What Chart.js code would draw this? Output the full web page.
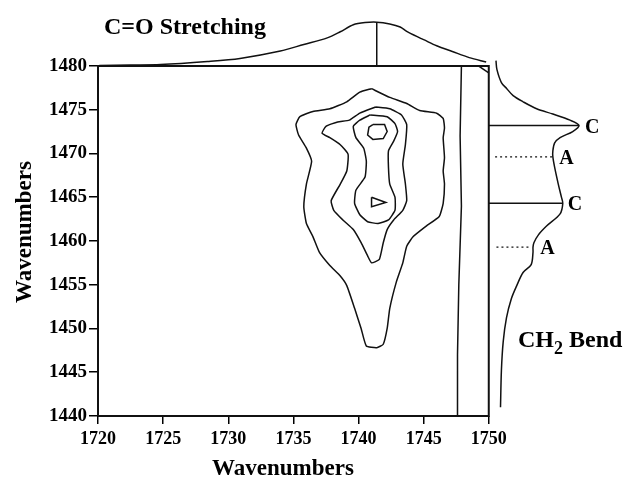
<!DOCTYPE html>
<html>
<head>
<meta charset="utf-8">
<script src="https://cdn.jsdelivr.net/npm/chart.js@4/dist/chart.umd.min.js"></script>
<style>
  html, body { margin: 0; padding: 0; background: #fff; }
  #wrap { width: 626px; height: 480px; }
</style>
</head>
<body>
<div id="wrap"><canvas id="c" width="626" height="480"></canvas></div>
<script>
// Tick values of the 2D correlation map
const xTicks = [1720, 1725, 1730, 1735, 1740, 1745, 1750];
const yTicks = [1440, 1445, 1450, 1455, 1460, 1465, 1470, 1475, 1480];

// Contour levels, [wavenumber1, wavenumber2]
const contourLevel1 = [[1741.0,1477.4],[1742.4,1476.4],[1743.7,1475.7],[1744.7,1474.9],[1746.0,1474.6],[1746.5,1474.0],[1746.6,1472.9],[1746.5,1471.8],[1746.6,1469.5],[1746.5,1468.0],[1746.6,1466.5],[1746.5,1464.3],[1746.2,1462.8],[1745.2,1461.7],[1744.2,1460.5],[1743.7,1459.4],[1743.4,1457.5],[1742.9,1455.3],[1742.4,1452.3],[1742.2,1450.0],[1741.9,1448.2],[1741.4,1447.8],[1740.6,1448.0],[1740.2,1450.0],[1739.7,1452.3],[1739.1,1454.9],[1738.6,1456.0],[1737.8,1457.2],[1737.0,1458.7],[1736.5,1460.5],[1736.0,1462.0],[1735.8,1463.9],[1736.0,1466.5],[1736.4,1469.1],[1736.0,1470.6],[1735.4,1472.1],[1735.2,1473.3],[1735.5,1474.2],[1736.5,1474.8],[1737.8,1475.1],[1739.1,1475.9],[1740.1,1477.0]];
const contourLevel2 = [[1741.3,1475.3],[1742.4,1475.1],[1743.3,1474.4],[1743.7,1473.3],[1743.6,1471.0],[1743.4,1468.8],[1743.6,1466.5],[1743.7,1464.6],[1743.4,1463.5],[1742.7,1462.4],[1742.2,1461.3],[1741.9,1459.8],[1741.6,1457.9],[1741.0,1457.5],[1740.7,1458.3],[1740.2,1459.8],[1739.6,1461.3],[1738.8,1462.4],[1738.1,1463.5],[1737.9,1464.6],[1738.6,1466.5],[1739.1,1468.0],[1739.2,1469.9],[1738.6,1471.0],[1737.8,1471.8],[1737.2,1472.3],[1737.5,1473.1],[1738.4,1473.6],[1739.3,1473.8],[1740.1,1474.6]];
const contourLevel3 = [[1740.9,1474.4],[1742.2,1474.2],[1742.8,1473.4],[1743.0,1472.5],[1742.7,1471.4],[1742.3,1470.3],[1742.3,1468.4],[1742.4,1466.5],[1742.8,1465.0],[1742.8,1463.5],[1742.3,1462.4],[1741.5,1462.0],[1740.7,1462.2],[1740.1,1463.0],[1739.7,1464.3],[1739.8,1465.8],[1740.5,1467.3],[1740.6,1469.1],[1740.4,1470.6],[1739.8,1471.8],[1739.6,1473.1],[1740.1,1473.8]];
const contourLevel4a = [[1741.1,1473.3],[1742.0,1473.3],[1742.2,1472.5],[1741.9,1471.7],[1741.1,1471.6],[1740.7,1472.1],[1740.8,1473.0]];
const contourLevel4b = [[1741.0,1465.0],[1742.1,1464.4],[1741.0,1463.9]];
const diagonalTrace = [[1747.9,1480],[1747.8,1472],[1747.9,1464],[1747.7,1455],[1747.6,1447],[1747.6,1440]];
const cornerTrace = [[1749.2,1480],[1750.0,1479.2]];

// Top reference spectrum (C=O stretching): wavenumber and relative intensity
const topWavenumber = [1720.1,1722.5,1724.8,1728.4,1730.9,1734.0,1735.8,1737.6,1738.6,1739.6,1740.5,1741.4,1742.4,1743.2,1743.7,1744.7,1745.0,1746.0,1747.2,1748.5,1749.8];
const topIntensity  = [0.01,0.02,0.03,0.10,0.17,0.34,0.49,0.64,0.78,0.94,0.99,1.00,0.96,0.89,0.79,0.64,0.60,0.46,0.33,0.19,0.09];
const topPeak = 1741.4;

// Side reference spectrum (CH2 bending): wavenumber and relative intensity
const sideWavenumber = [1480.6,1479.6,1478.1,1477.4,1476.6,1475.9,1475.1,1474.5,1473.8,1473.2,1472.5,1471.8,1471.2,1470.3,1469.6,1468.4,1466.5,1465.0,1464.3,1463.1,1461.7,1460.7,1459.8,1459.3,1458.7,1457.3,1456.4,1454.9,1453.4,1451.2,1448.5,1445.2,1441.0];
const sideIntensity  = [0.08,0.09,0.14,0.20,0.27,0.38,0.53,0.71,0.90,1.00,0.93,0.79,0.73,0.71,0.71,0.73,0.77,0.805,0.82,0.79,0.64,0.55,0.50,0.49,0.49,0.47,0.38,0.31,0.25,0.196,0.16,0.14,0.13];

// Band assignments on the side spectrum
const bandWavenumber = [1473.2, 1469.6, 1464.3, 1459.3];
const bandLabel      = ['C', 'A', 'C', 'A'];
const bandFrom       = [0.00, 0.07, 0.00, 0.085];
const bandTo         = [1.00, 0.71, 0.82, 0.47];
const bandLabelPos   = [1.065, 0.78, 0.875, 0.57];

// Axis ranges: the plot box plus room for the two marginal spectra
const X_MIN = 1720, X_MAX = 1759, Y_MIN = 1440, Y_MAX = 1486;
const BOX_X = 1750, BOX_Y = 1480;
const TOP_SPAN = 5.0;    // y-axis units per unit of top-spectrum intensity
const SIDE_SPAN = 6.93;  // x-axis units per unit of side-spectrum intensity

const INK = '#111';
const SERIF = '"Liberation Serif", "Times New Roman", serif';

const pts = arr => arr.map(p => ({ x: p[0], y: p[1] }));
const closed = arr => pts(arr.concat([arr[0]]));

function lineSet(data, extra) {
  return Object.assign({
    type: 'scatter', data, showLine: true, pointRadius: 0, borderColor: INK,
    borderWidth: 1.5, fill: false, tension: 0, clip: false
  }, extra || {});
}

const datasets = [
  lineSet(pts([[X_MIN, Y_MIN], [BOX_X, Y_MIN], [BOX_X, BOX_Y], [X_MIN, BOX_Y], [X_MIN, Y_MIN]]), { borderWidth: 2 }),
  lineSet(closed(contourLevel1), { tension: 0.15 }),
  lineSet(closed(contourLevel2), { tension: 0.15 }),
  lineSet(closed(contourLevel3), { tension: 0.15 }),
  lineSet(closed(contourLevel4a)),
  lineSet(closed(contourLevel4b)),
  lineSet(pts(diagonalTrace)),
  lineSet(pts(cornerTrace)),
  lineSet(topWavenumber.map((x, i) => ({ x, y: topIntensity[i] })), { yAxisID: 'yTop', tension: 0.3 }),
  lineSet([{ x: topPeak, y: 0 }, { x: topPeak, y: 1 }], { yAxisID: 'yTop' }),
  lineSet(sideWavenumber.map((y, i) => ({ x: sideIntensity[i], y })), { xAxisID: 'xSide', tension: 0.3 })
];
bandWavenumber.forEach((w, i) => {
  datasets.push(lineSet([{ x: bandFrom[i], y: w }, { x: bandTo[i], y: w }], {
    xAxisID: 'xSide',
    borderDash: bandLabel[i] === 'A' ? [2, 3] : [],
    borderWidth: bandLabel[i] === 'A' ? 1.2 : 1.5
  }));
});

const textPlugin = {
  id: 'spectrumText',
  afterDatasetsDraw(chart) {
    const ctx = chart.ctx;
    const sx = chart.scales.xSide, sy = chart.scales.y;
    ctx.save();
    ctx.fillStyle = '#000';
    ctx.textBaseline = 'middle';

    ctx.font = 'bold 24px ' + SERIF;
    ctx.textAlign = 'left';
    ctx.fillText('C=O Stretching', 104, 28);

    // CH2 Bend with subscript
    let x = 518;
    const y = 341;
    ctx.fillText('CH', x, y);
    x += ctx.measureText('CH').width;
    ctx.font = 'bold 18px ' + SERIF;
    ctx.fillText('2', x, y + 8);
    x += ctx.measureText('2').width;
    ctx.font = 'bold 24px ' + SERIF;
    ctx.fillText(' Bend', x, y);

    ctx.textAlign = 'center';
    ctx.font = 'bold 23px ' + SERIF;
    ctx.fillText('Wavenumbers', 283, 469);
    ctx.save();
    ctx.translate(25, 232);
    ctx.rotate(-Math.PI / 2);
    ctx.fillText('Wavenumbers', 0, 0);
    ctx.restore();

    ctx.textAlign = 'left';
    ctx.font = 'bold 20px ' + SERIF;
    bandLabel.forEach((t, i) => {
      ctx.fillText(t, sx.getPixelForValue(bandLabelPos[i]), sy.getPixelForValue(bandWavenumber[i]) + 2);
    });
    ctx.restore();
  }
};

const gridStyle = { display: true, drawOnChartArea: false, drawTicks: true, color: '#000', lineWidth: 1.5 };
const tickStyle = { color: '#000', autoSkip: false, maxRotation: 0, callback: v => String(v) };

new Chart(document.getElementById('c'), {
  type: 'scatter',
  data: { datasets },
  options: {
    responsive: false,
    animation: false,
    devicePixelRatio: 1,
    layout: { padding: { top: 7, right: 20, left: 0, bottom: 0 } },
    plugins: { legend: { display: false }, tooltip: { enabled: false } },
    scales: {
      x: {
        type: 'linear', position: 'bottom', min: X_MIN, max: X_MAX,
        afterBuildTicks: s => { s.ticks = xTicks.map(v => ({ value: v })); },
        afterFit: s => { s.height = 64; },
        border: { display: false },
        grid: Object.assign({}, gridStyle, { tickLength: 8 }),
        ticks: Object.assign({}, tickStyle, { padding: 5, font: { family: SERIF, size: 18, weight: 'bold' } })
      },
      y: {
        type: 'linear', position: 'left', min: Y_MIN, max: Y_MAX,
        afterBuildTicks: s => { s.ticks = yTicks.map(v => ({ value: v })); },
        afterFit: s => { s.width = 98; },
        border: { display: false },
        grid: Object.assign({}, gridStyle, { tickLength: 9 }),
        ticks: Object.assign({}, tickStyle, { padding: 2, font: { family: SERIF, size: 19, weight: 'bold' } })
      },
      yTop: {
        type: 'linear', position: 'left', display: false,
        min: (Y_MIN - BOX_Y) / TOP_SPAN, max: (Y_MAX - BOX_Y) / TOP_SPAN
      },
      xSide: {
        type: 'linear', position: 'bottom', display: false,
        min: (X_MIN - BOX_X) / SIDE_SPAN, max: (X_MAX - BOX_X) / SIDE_SPAN
      }
    }
  },
  plugins: [textPlugin]
});
</script>
</body>
</html>
